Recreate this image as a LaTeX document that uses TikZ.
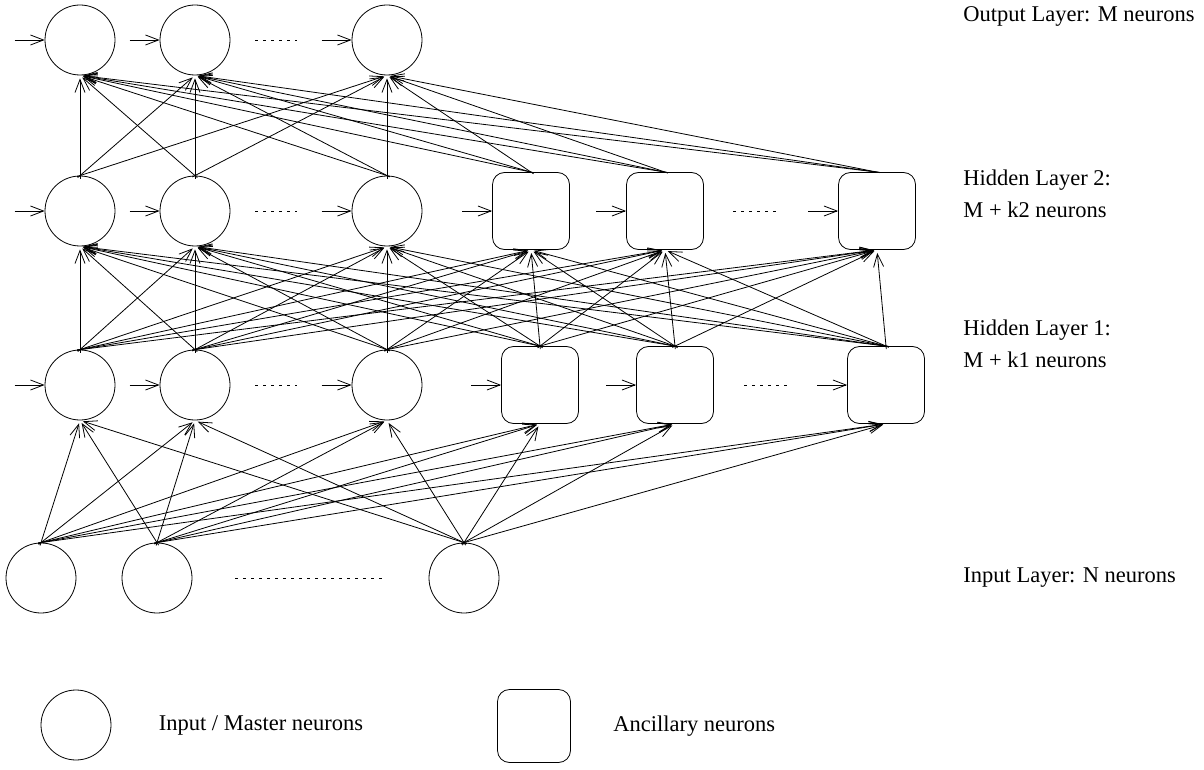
\documentclass[tikz,border=0pt]{standalone}
\usepackage{fontspec}
\setmainfont{Liberation Serif}
\usetikzlibrary{arrows.meta,positioning,calc}

\begin{document}
\begin{tikzpicture}[
    x=1pt, y=-1pt,
    line width=0.8pt,
    master/.style={circle, draw, minimum size=70pt, inner sep=0pt},
    ancillary/.style={rectangle, draw, rounded corners=12pt, minimum size=77pt, inner sep=0pt},
    link/.style={-{Straight Barb[length=13pt,width=10pt]}, shorten >=3pt, shorten <=-3pt},
    feed/.style={-{Straight Barb[length=13pt,width=10pt]}},
    gap/.style={dash pattern=on 3pt off 5pt},
    layername/.style={anchor=west, font=\fontsize{22.5}{32}\selectfont, align=left, inner sep=0pt}
]
\useasboundingbox (0,0) rectangle (1204,770);

% Output layer
\node (out1) [master] at (80,40) {};
\node (out2) [master] at (195,40) {};
\node (out3) [master] at (387,40) {};

% Hidden layer 2
\node (hb1) [master] at (80,211) {};
\node (hb2) [master] at (195,211) {};
\node (hb3) [master] at (387,211) {};
\node (hb4) [ancillary] at (531,211) {};
\node (hb5) [ancillary] at (665,211) {};
\node (hb6) [ancillary] at (877,211) {};

% Hidden layer 1
\node (ha1) [master] at (80,385) {};
\node (ha2) [master] at (195,385) {};
\node (ha3) [master] at (387,385) {};
\node (ha4) [ancillary] at (540,385) {};
\node (ha5) [ancillary] at (675,385) {};
\node (ha6) [ancillary] at (886,385) {};

% Input layer
\node (in1) [master] at (41,578) {};
\node (in2) [master] at (157,578) {};
\node (in3) [master] at (464,578) {};

% Legend
\node (keymaster) [master] at (76,725) {};
\node (keyanc) [ancillary, minimum size=73pt] at (534,726) {};
\node (keymastertxt) [layername, right=47pt of keymaster] {Input / Master neurons};
\node (keyanctxt) [layername, right=42pt of keyanc] {Ancillary neurons};

% Layer labels
\node (outlbl) [layername] at (963,16) {Output Layer: M neurons};
\node (hblbl) [layername] at (963,194) {Hidden Layer 2:\\M + k2 neurons};
\node (halbl) [layername] at (963,344) {Hidden Layer 1:\\M + k1 neurons};
\node (inlbl) [layername] at (963,578) {Input Layer: N neurons};

% Connections
\foreach \s in {1,2,3}
  \foreach \t in {1,...,6}
    \draw[link] (in\s.north) -- (ha\t.south);
\foreach \s in {1,...,6}
  \foreach \t in {1,...,6}
    \draw[link] (ha\s.north) -- (hb\t.south);
\foreach \s in {1,...,6}
  \foreach \t in {1,2,3}
    \draw[link] (hb\s.north) -- (out\t.south);

% Side inputs
\foreach \n in {out1,out2,out3,hb1,hb2,hb3,hb4,hb5,hb6,ha1,ha2,ha3,ha4,ha5,ha6} {
  \coordinate (\n-feed) at ([xshift=-30pt]\n.west);
  \draw[feed] (\n-feed) -- (\n.west);
}

% Dots
\draw[gap] (255,40) -- (297,40);
\draw[gap] (255,211) -- (297,211);
\draw[gap] (733,211) -- (777,211);
\draw[gap] (255,385) -- (297,385);
\draw[gap] (744,385) -- (787,385);
\draw[gap] (235,578) -- (386,578);

\end{tikzpicture}
\end{document}
